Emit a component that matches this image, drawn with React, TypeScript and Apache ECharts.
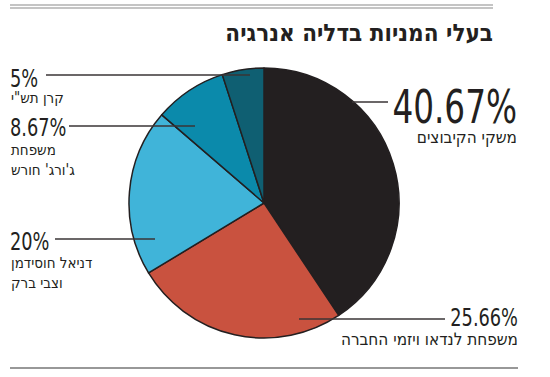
import React, { useEffect, useRef } from "react";
import * as echarts from "echarts";

const names = ["משקי הקיבוצים", "משפחת לנדאו ויזמי החברה", "דניאל חוסידמן\nוצבי ברק", "משפחת\nג'ורג' חורש", 'קרן תש"י'];
const values = [40.67, 25.66, 20, 8.67, 5];
const valueLabels = ["40.67%", "25.66%", "20%", "8.67%", "5%"];
const colors = ["#231f20", "#c9523f", "#40b4d9", "#0b8aab", "#0f5f72"];
const title = "בעלי המניות בדליה אנרגיה";

// label layout (position only)
const layout = [
  { x: 517, y: 107, align: "right", size: 46, nameSize: 17, nameY: 137, lx1: 352, lx2: 388, ly: 102 },
  { x: 518, y: 317, align: "right", size: 25, nameSize: 17, nameY: 339, lx1: 299, lx2: 445, ly: 319 },
  { x: 10, y: 241, align: "left", size: 25, nameSize: 15, nameY: 263, lx1: 55, lx2: 155, ly: 239 },
  { x: 10, y: 127, align: "left", size: 25, nameSize: 15, nameY: 150, lx1: 69, lx2: 195, ly: 126 },
  { x: 10, y: 78, align: "left", size: 25, nameSize: 15, nameY: 98, lx1: 46, lx2: 250, ly: 75 },
];

const NUM_FONT = '"DejaVu Sans Condensed", "DejaVu Sans", sans-serif';
const HEB_FONT = '"DejaVu Sans Condensed", "DejaVu Sans", sans-serif';

export default function App() {
  const ref = useRef<HTMLDivElement>(null);
  useEffect(() => {
    document.body.style.margin = "0";
    const chart = echarts.init(ref.current!, null, { renderer: "svg" });
    const graphics: any[] = [
      { type: "line", shape: { x1: 10, y1: 5, x2: 493, y2: 5 }, style: { stroke: "#8a8a8a", lineWidth: 1.2 } },
      { type: "line", shape: { x1: 10, y1: 8, x2: 493, y2: 8 }, style: { stroke: "#8a8a8a", lineWidth: 1.2 } },
      { type: "line", shape: { x1: 10, y1: 368, x2: 518, y2: 368 }, style: { stroke: "#333", lineWidth: 1.2 } },
      {
        type: "text",
        style: { text: title, x: 493, y: 33, textAlign: "right", textVerticalAlign: "middle", font: 'bold 24px "DejaVu Sans Condensed", sans-serif', fill: "#231f20" },
      },
    ];
    values.forEach((v, i) => {
      const L = layout[i];
      graphics.push({
        type: "line",
        z: 100,
        shape: { x1: L.lx1, y1: L.ly, x2: L.lx2, y2: L.ly },
        style: { stroke: "#3a3536", lineWidth: 1.5 },
      });
      graphics.push({
        type: "text",
        x: L.x,
        y: L.y,
        scaleX: 0.79,
        style: { text: valueLabels[i], x: 0, y: 0, textAlign: L.align, textVerticalAlign: "middle", font: `${L.size}px ${NUM_FONT}`, fill: "#231f20" },
      });
      names[i].split("\n").forEach((line, j) => {
        graphics.push({
          type: "text",
          style: { text: line, x: L.x + (L.align === "left" ? 1 : 0), y: L.nameY + j * 20, textAlign: L.align, textVerticalAlign: "middle", font: `${L.nameSize}px ${HEB_FONT}`, fill: "#231f20" },
        });
      });
    });
    chart.setOption({
      animation: false,
      series: [
        {
          type: "pie",
          center: [264, 203],
          radius: 135,
          startAngle: 90,
          clockwise: true,
          label: { show: false },
          labelLine: { show: false },
          itemStyle: { borderColor: "#231f20", borderWidth: 1.5 },
          emphasis: { disabled: true },
          data: values.map((v, i) => ({ value: v, name: names[i], itemStyle: { color: colors[i] } })),
        },
      ],
      graphic: graphics,
    });
    return () => chart.dispose();
  }, []);
  return <div ref={ref} style={{ width: 550, height: 377 }} />;
}
